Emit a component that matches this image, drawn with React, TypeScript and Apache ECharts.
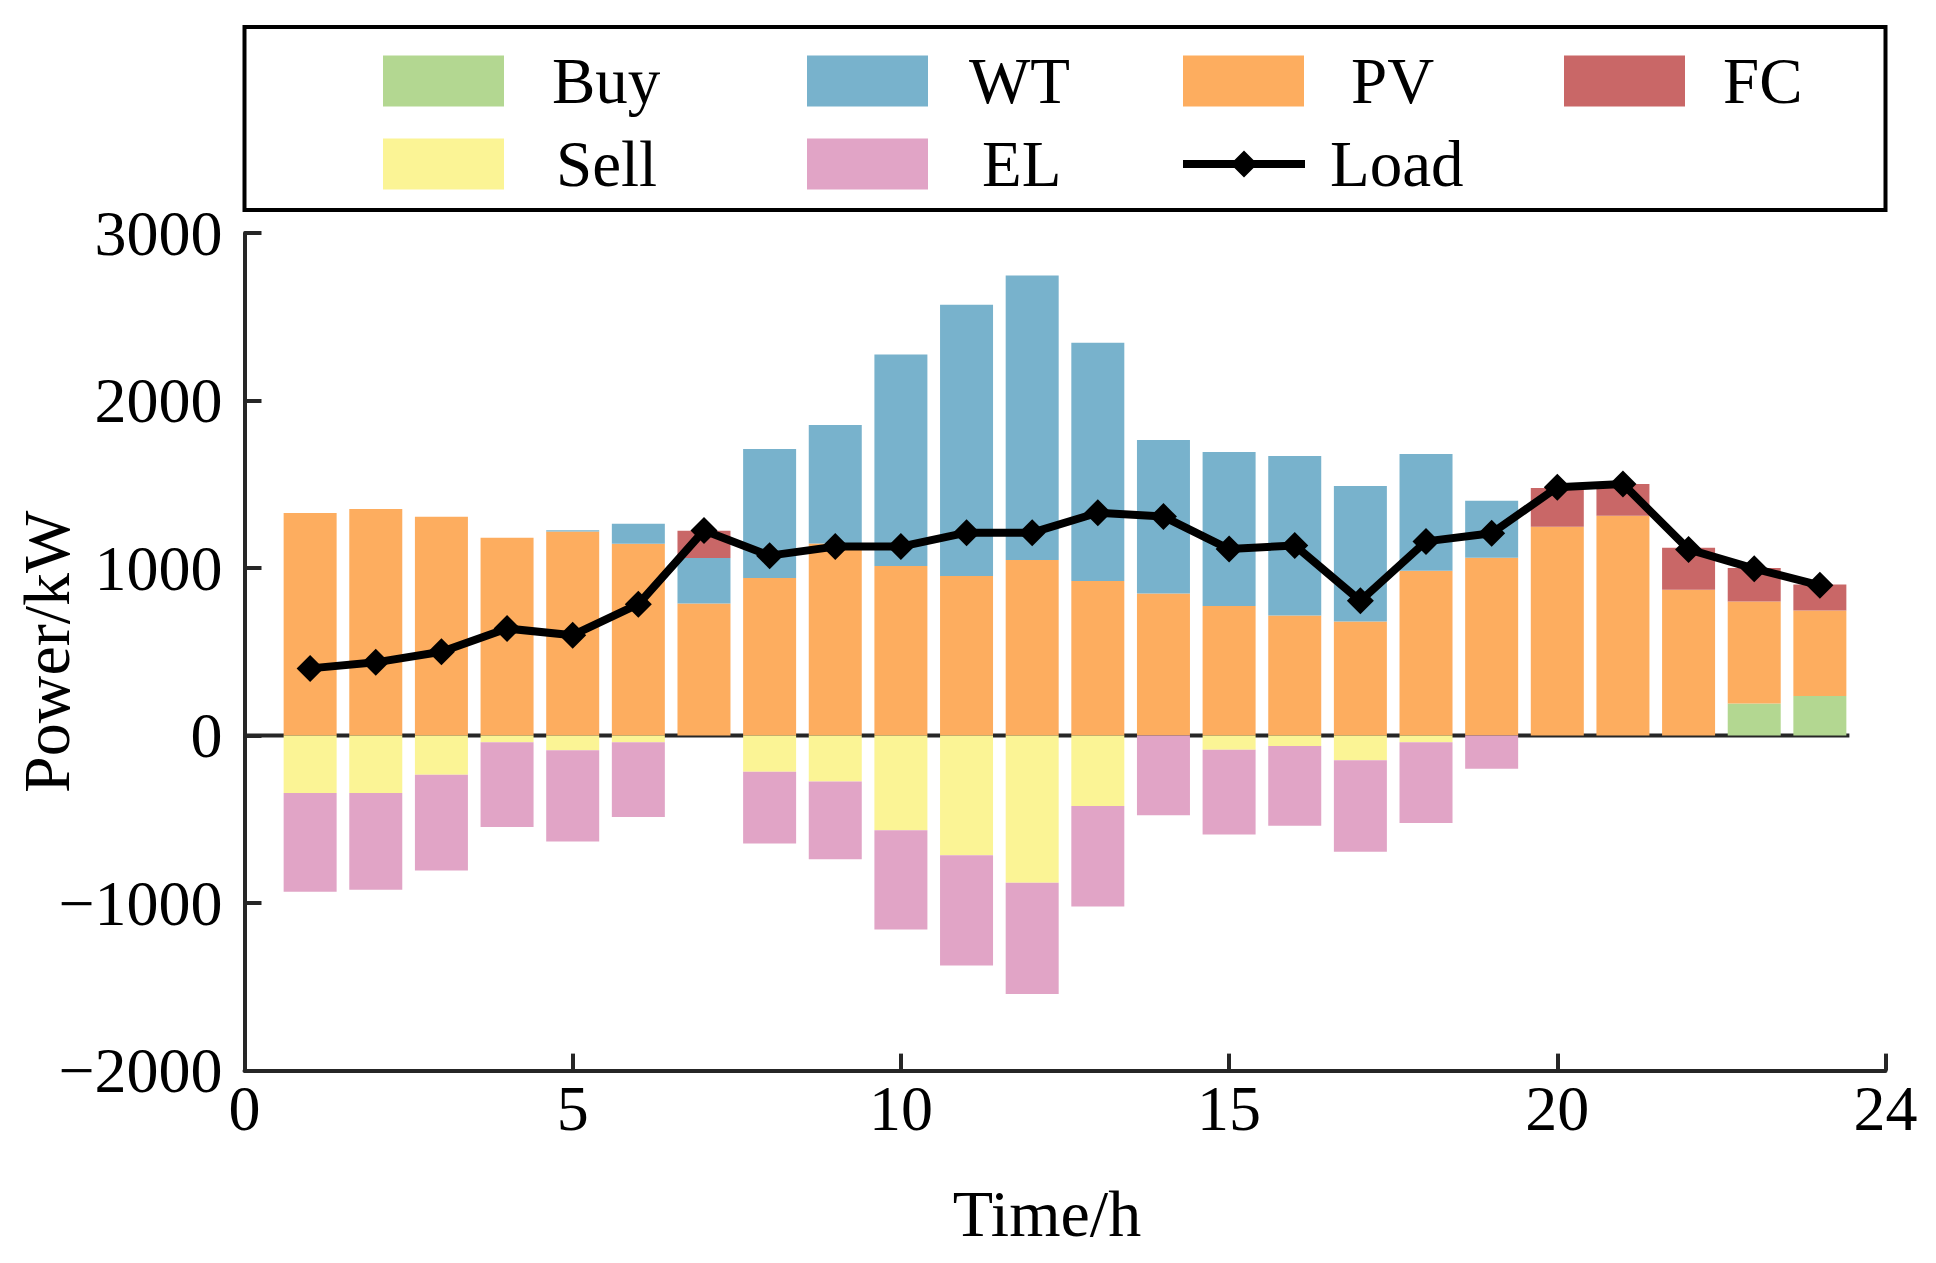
import React, { useEffect, useRef } from "react";
import * as echarts from "echarts";

const xCats = [0, 1, 2, 3, 4, 5, 6, 7, 8, 9, 10, 11, 12, 13, 14, 15, 16, 17, 18, 19, 20, 21, 22, 23, 24, 25];
const hours = [1, 2, 3, 4, 5, 6, 7, 8, 9, 10, 11, 12, 13, 14, 15, 16, 17, 18, 19, 20, 21, 22, 23, 24];
const buy = [0, 0, 0, 0, 0, 0, 0, 0, 0, 0, 0, 0, 0, 0, 0, 0, 0, 0, 0, 0, 0, 0, 192, 236];
const pv = [1329, 1353, 1306, 1181, 1218, 1145, 788, 941, 1146, 1012, 952, 1048, 923, 848, 774, 716, 681, 984, 1062, 1246, 1312, 871, 608, 510];
const wt = [0, 0, 0, 0, 8, 119, 272, 770, 708, 1262, 1619, 1699, 1422, 917, 919, 953, 809, 697, 339, 0, 0, 0, 0, 0];
const fc = [0, 0, 0, 0, 0, 0, 162, 0, 0, 0, 0, 0, 0, 0, 0, 0, 0, 0, 0, 232, 190, 250, 200, 155];
const sell = [-343, -343, -234, -40, -87, -40, 0, -216, -274, -565, -714, -878, -420, 0, -84, -63, -147, -40, 0, 0, 0, 0, 0, 0];
const el = [-590, -578, -572, -506, -546, -446, 0, -428, -464, -593, -658, -665, -601, -476, -506, -475, -547, -482, -198, 0, 0, 0, 0, 0];
const load = [401, 437, 500, 639, 599, 784, 1224, 1074, 1128, 1128, 1211, 1211, 1330, 1307, 1113, 1135, 804, 1159, 1208, 1482, 1502, 1111, 996, 897];
const xTickValues = [0, 5, 10, 15, 20, 25];
const xTickLabels = ["0", "5", "10", "15", "20", "24"];
const baseline = [[0, 0], [24.45, 0]];

const FONT = "'Liberation Serif', 'Times New Roman', serif";
const AX = "#262626";
const LOAD_ICON =
  "path://M0,0L0,0ZM0,51L0,51ZM122,0L122,0ZM0,21.5H122V29.5H0ZM61,12L74.5,25.5L61,39L47.5,25.5Z";

export default function App() {
  const ref = useRef<HTMLDivElement>(null);
  useEffect(() => {
    document.body.style.margin = "0";
    const chart = echarts.init(ref.current!, null, { renderer: "svg" });
    const toCat = (arr: number[]) =>
      xCats.map((c) => {
        const i = hours.indexOf(c);
        return i < 0 || arr[i] === 0 ? null : arr[i];
      });
    const barSeries = (name: string, arr: number[], color: string) => ({
      name,
      type: "bar",
      stack: "total",
      barWidth: 53,
      data: toCat(arr),
      itemStyle: { color },
      z: 3,
      silent: true,
    });
    const legendBase = (name: string, left: number, cy: number, pad: number, icon: string = "rect") => ({
      data: [name],
      left,
      top: cy - 25.5,
      padding: 0,
      itemWidth: icon === "rect" ? 121 : 122,
      itemHeight: 51,
      icon,
      selectedMode: false,
      textStyle: { fontSize: 65, fontFamily: FONT, color: "#000", padding: [0, 0, 0, pad], lineHeight: 51 },
    });
    const option: any = {
      animation: false,
      backgroundColor: "#fff",
      grid: {
        left: 244.5,
        right: 50.5,
        top: 233,
        bottom: 192.4,
        containLabel: false,
        outerBoundsMode: "none",
      },
      legend: [
        legendBase("Buy", 383, 74, 43),
        legendBase("WT", 807, 74, 36),
        legendBase("PV", 1183, 74, 42),
        legendBase("FC", 1564, 74, 33),
        legendBase("Sell", 383, 157, 47),
        legendBase("EL", 807, 157, 49),
        legendBase("Load", 1183, 157, 20, LOAD_ICON),
      ],
      graphic: [
        {
          type: "rect",
          shape: { x: 244.5, y: 27, width: 1641, height: 183 },
          style: { fill: "none", stroke: "#000", lineWidth: 4 },
          silent: true,
        },
      ],
      xAxis: [
        {
          type: "category",
          data: xCats.map(String),
          boundaryGap: false,
          name: "Time/h",
          nameLocation: "middle",
          nameGap: 110,
          nameTextStyle: { fontSize: 66, fontFamily: FONT, color: "#000", padding: [0, 36, 0, 0] },
          axisLine: { onZero: false, lineStyle: { color: AX, width: 4 } },
          axisTick: {
            inside: true,
            length: 17,
            interval: (i: number) => xTickValues.indexOf(xCats[i]) >= 0,
            lineStyle: { color: AX, width: 4 },
          },
          axisLabel: {
            fontSize: 64,
            fontFamily: FONT,
            color: "#000",
            margin: 6,
            interval: (i: number) => xTickValues.indexOf(xCats[i]) >= 0,
            formatter: (v: string) => {
              const k = xTickValues.indexOf(Number(v));
              return k >= 0 ? xTickLabels[k] : v;
            },
          },
          splitLine: { show: false },
        },
        {
          type: "value",
          min: 0,
          max: 25,
          show: false,
        },
      ],
      yAxis: {
        type: "value",
        min: -2000,
        max: 3000,
        interval: 1000,
        name: "Power/kW",
        nameLocation: "middle",
        nameRotate: 90,
        nameGap: 165,
        nameMoveOverlap: false,
        nameTextStyle: { fontSize: 66, fontFamily: FONT, color: "#000" },
        axisLine: { show: true, onZero: false, lineStyle: { color: AX, width: 4 } },
        axisTick: { show: true, inside: true, length: 17, lineStyle: { color: AX, width: 4 } },
        axisLabel: {
          fontSize: 64,
          fontFamily: FONT,
          color: "#000",
          margin: 22,
          formatter: (v: number) => (v < 0 ? "\u2212" + Math.abs(v) : String(v)),
        },
        splitLine: { show: false },
      },
      series: [
        {
          name: "baseline",
          type: "line",
          xAxisIndex: 1,
          data: baseline,
          symbol: "none",
          lineStyle: { color: AX, width: 4 },
          z: 1,
          silent: true,
        },
        barSeries("Buy", buy, "#b3d791"),
        barSeries("PV", pv, "#fdad5f"),
        barSeries("WT", wt, "#78b2cc"),
        barSeries("FC", fc, "#c96767"),
        barSeries("Sell", sell, "#fbf495"),
        barSeries("EL", el, "#e1a4c6"),
        {
          name: "Load",
          type: "line",
          data: toCat(load),
          symbol: "diamond",
          symbolSize: 27,
          itemStyle: { color: "#000" },
          lineStyle: { color: "#000", width: 8 },
          z: 10,
          silent: true,
        },
      ],
    };
    chart.setOption(option);
    return () => chart.dispose();
  }, []);
  return <div ref={ref} style={{ width: 1936, height: 1263 }} />;
}
